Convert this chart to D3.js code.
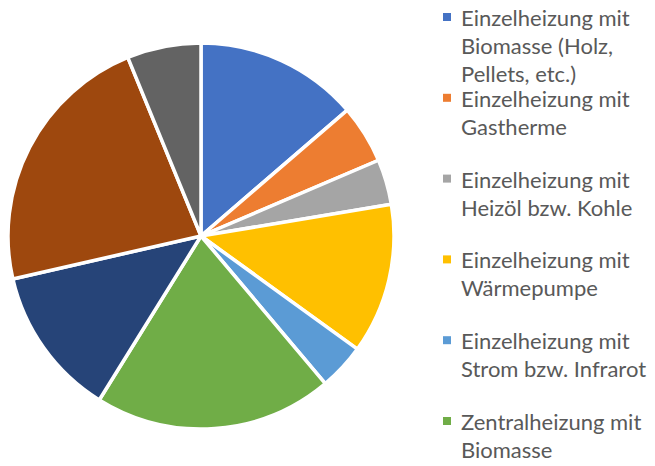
<!DOCTYPE html>
<html>
<head>
<meta charset="utf-8">
<script src="https://cdn.jsdelivr.net/npm/d3@7"></script>
<style>
  body { margin: 0; background: #fff; }
  svg { display: block; }
</style>
</head>
<body>
<div id="chart"></div>
<script>
// slice shares in percent, clockwise from 12 o'clock
const values = [13.7, 4.9, 3.8, 12.6, 3.9, 20.0, 12.6, 22.4, 6.2]
const colors = ['#4472C4', '#ED7D31', '#A5A5A5', '#FFC000', '#5B9BD5',
  '#70AD47', '#264478', '#9E480E', '#636363']
// only the first six legend entries are visible in the picture
const legendLabels = [
  ['Einzelheizung mit', 'Biomasse (Holz,', 'Pellets, etc.)'],
  ['Einzelheizung mit', 'Gastherme'],
  ['Einzelheizung mit', 'Heizöl bzw. Kohle'],
  ['Einzelheizung mit', 'Wärmepumpe'],
  ['Einzelheizung mit', 'Strom bzw. Infrarot'],
  ['Zentralheizung mit', 'Biomasse']
]

const width = 655
const height = 466
const cx = 201, cy = 236, radius = 193

const svg = d3.select('#chart').append('svg')
  .attr('width', width)
  .attr('height', height)

const pie = d3.pie().sort(null).value(d => d)
const arc = d3.arc().innerRadius(0).outerRadius(radius)

const g = svg.append('g')
  .attr('transform', `translate(${cx}, ${cy})`)

g.selectAll('path').data(pie(values))
  .enter().append('path')
  .attr('d', arc)
  .attr('fill', (d, i) => colors[i])
  .attr('stroke', '#fff')
  .attr('stroke-width', 3.5)
  .attr('stroke-linejoin', 'round')

// legend
const legend = svg.append('g')
const lineH = 28
const step = 80.8
const items = legend.selectAll('.item').data(legendLabels)
  .enter().append('g')
  .attr('class', 'item')
  .attr('transform', (d, i) => `translate(0, ${26 + i * step})`)

items.append('rect')
  .attr('x', 443)
  .attr('y', -13)
  .attr('width', 8)
  .attr('height', 8)
  .attr('fill', (d, i) => colors[i])

items.append('text')
  .attr('x', 461)
  .attr('font-family', 'Lato, "Open Sans", sans-serif')
  .attr('font-size', 22)
  .attr('fill', '#595959')
  .selectAll('tspan').data(d => d)
  .enter().append('tspan')
  .attr('x', 461)
  .attr('y', (d, j) => j * lineH)
  .text(d => d)
</script>
</body>
</html>
